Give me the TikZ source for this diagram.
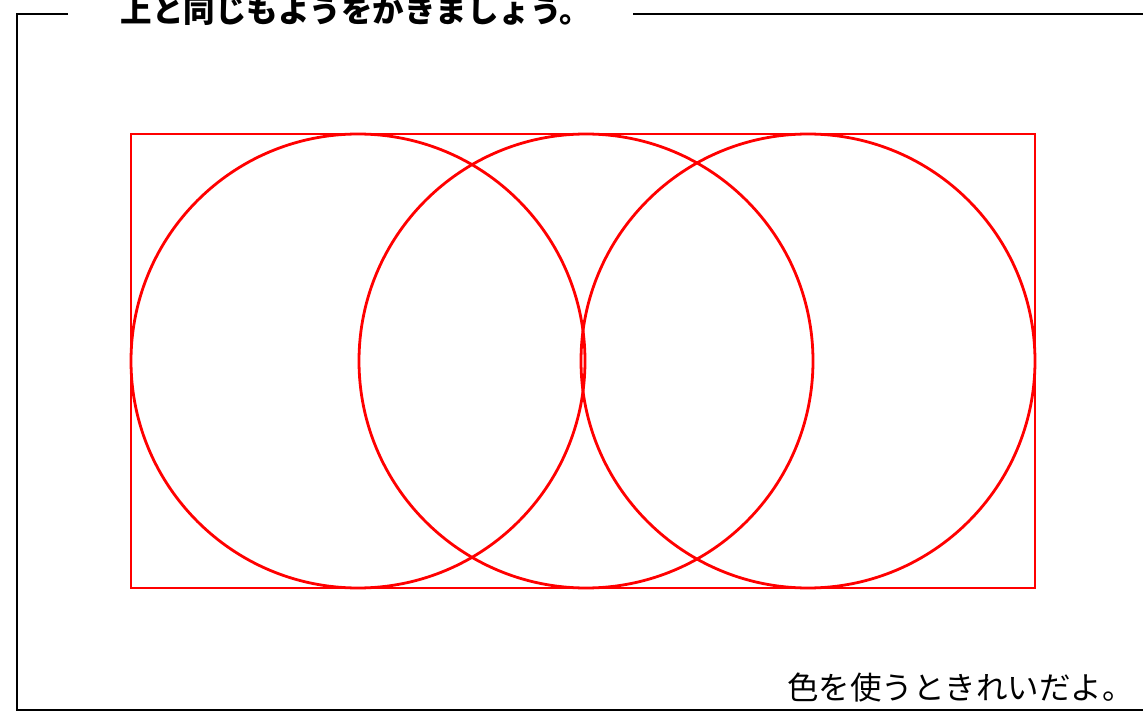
\documentclass[tikz,border=0pt]{standalone}
\usepackage{fontspec}
\newfontfamily\jpfont{Noto Sans CJK JP}
\usetikzlibrary{positioning}
\tikzset{
  redline/.style={line width=2.8pt,red},
  frameline/.style={line width=1.8pt,black},
  titletext/.style={font=\jpfont\bfseries\fontsize{31.5}{31.5}\selectfont,inner sep=0pt},
  notetext/.style={font=\jpfont\fontsize{31.5}{31.5}\selectfont,inner sep=0pt}
}

\begin{document}
\begin{tikzpicture}[x=1pt,y=-1pt]
\useasboundingbox (0,0) rectangle (1143,711);
% frame
\draw[frameline] (68,14)--(17,14)--(17,710)--(1143,710);
\draw[frameline] (633,14)--(1143,14);
\node[titletext] (title) at (356,11) {上と同じもようをかきましょう。};
% pattern
\draw[redline] (131,134) rectangle (1035,588);
\draw[redline] (358,361) circle (227);
\draw[redline] (586,361) circle (227);
\draw[redline] (808,361) circle (227);
\node[notetext,anchor=east] (note) at (1134,688) {色を使うときれいだよ。};
\end{tikzpicture}
\end{document}
